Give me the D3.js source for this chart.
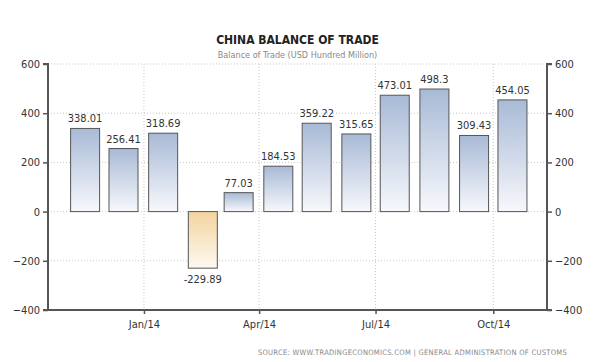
<!DOCTYPE html>
<html>
<head>
<meta charset="utf-8">
<script src="https://cdn.jsdelivr.net/npm/d3@7"></script>
<style>
  body { margin: 0; background: #fff; }
  text { font-family: "DejaVu Sans Condensed", "DejaVu Sans", sans-serif; }
</style>
</head>
<body>
<script>
// data: Nov 2013 .. Oct 2014
var months = ["2013-11", "2013-12", "2014-01", "2014-02", "2014-03", "2014-04",
              "2014-05", "2014-06", "2014-07", "2014-08", "2014-09", "2014-10"];
var values = [338.01, 256.41, 318.69, -229.89, 77.03, 184.53,
              359.22, 315.65, 473.01, 498.3, 309.43, 454.05];
var yTicks = [-400, -200, 0, 200, 400, 600];
var xTicks = ["2014-01", "2014-04", "2014-07", "2014-10"];

var svgWidth = 600;
var svgHeight = 362;

var margin = { top: 64, right: 53, bottom: 52, left: 48 };
var width = svgWidth - margin.left - margin.right;
var height = svgHeight - margin.top - margin.bottom;

var parseMonth = d3.timeParse("%Y-%m");
var fmtTick = d3.timeFormat("%b/%y");

var data = months.map(function(m, i) {
  var d = parseMonth(m);
  return { date: d, mid: d3.timeDay.offset(d, 15), value: values[i] };
});

var svg = d3.select("body")
  .append("svg")
  .attr("width", svgWidth)
  .attr("height", svgHeight);

var defs = svg.append("defs");
var gBlue = defs.append("linearGradient").attr("id", "gBlue")
  .attr("x1", 0).attr("y1", 0).attr("x2", 0).attr("y2", 1);
gBlue.append("stop").attr("offset", "0%").attr("stop-color", "#a8bad6");
gBlue.append("stop").attr("offset", "100%").attr("stop-color", "#f7f8fc");
var gOrange = defs.append("linearGradient").attr("id", "gOrange")
  .attr("x1", 0).attr("y1", 0).attr("x2", 0).attr("y2", 1);
gOrange.append("stop").attr("offset", "0%").attr("stop-color", "#f3d49e");
gOrange.append("stop").attr("offset", "100%").attr("stop-color", "#fdf9f2");

var chartGroup = svg.append("g")
  .attr("transform", `translate(${margin.left}, ${margin.top})`);

// scales
var xScale = d3.scaleTime()
  .domain([new Date(2013, 9, 18), new Date(2014, 10, 12)])
  .range([0, width]);

var yScale = d3.scaleLinear()
  .domain([-400, 600])
  .range([height, 0]);

var tickDates = xTicks.map(parseMonth);

// grid
chartGroup.append("g")
  .selectAll("line")
  .data(yTicks.filter(d => d > -400))
  .enter()
  .append("line")
  .attr("x1", 0).attr("x2", width)
  .attr("y1", d => yScale(d)).attr("y2", d => yScale(d))
  .attr("stroke", "#c8c8c8")
  .attr("stroke-dasharray", "1,2");

chartGroup.append("g")
  .selectAll("line")
  .data(tickDates)
  .enter()
  .append("line")
  .attr("x1", d => xScale(d)).attr("x2", d => xScale(d))
  .attr("y1", 0).attr("y2", height)
  .attr("stroke", "#c8c8c8")
  .attr("stroke-dasharray", "1,2");

// bars
var barW = 29;
chartGroup.selectAll("rect.bar")
  .data(data)
  .enter()
  .append("rect")
  .attr("class", "bar")
  .attr("x", d => xScale(d.mid) - barW / 2)
  .attr("y", d => yScale(Math.max(0, d.value)))
  .attr("width", barW)
  .attr("height", d => Math.abs(yScale(d.value) - yScale(0)))
  .attr("fill", d => d.value >= 0 ? "url(#gBlue)" : "url(#gOrange)")
  .attr("stroke", "#555")
  .attr("stroke-width", 1);

// value labels
chartGroup.selectAll("text.val")
  .data(data)
  .enter()
  .append("text")
  .attr("class", "val")
  .attr("x", d => xScale(d.mid))
  .attr("y", d => d.value >= 0 ? yScale(d.value) - 6 : yScale(d.value) + 15)
  .attr("text-anchor", "middle")
  .attr("font-size", "11px")
  .attr("fill", "#333")
  .text(d => d.value);

// axes
var leftAxis = d3.axisLeft(yScale).tickValues(yTicks).tickSize(5).tickPadding(3);
var rightAxis = d3.axisRight(yScale).tickValues(yTicks).tickSize(5).tickPadding(3);
var bottomAxis = d3.axisBottom(xScale).tickValues(tickDates).tickFormat(fmtTick)
  .tickSize(4).tickPadding(6);

function styleAxis(g) {
  g.select(".domain").attr("stroke", "#555").attr("stroke-width", 2);
  g.selectAll(".tick line").attr("stroke", "#555").attr("stroke-width", 1.5);
  g.selectAll(".tick text").attr("fill", "#333").attr("font-size", "11px")
    .attr("font-family", "'DejaVu Sans Condensed', 'DejaVu Sans', sans-serif");
}

chartGroup.append("g")
  .call(leftAxis)
  .call(styleAxis)
  .call(g => g.select(".domain").attr("d", `M-5,0H0V${height}H-5`));

chartGroup.append("g")
  .attr("transform", `translate(${width}, 0)`)
  .call(rightAxis)
  .call(styleAxis)
  .call(g => g.select(".domain").attr("d", `M5,0H0V${height}H5`));

chartGroup.append("g")
  .attr("transform", `translate(0, ${height})`)
  .call(bottomAxis)
  .call(styleAxis)
  .call(g => g.select(".domain").attr("d", `M0,0H${width}`));

// titles
svg.append("text")
  .attr("x", margin.left + width / 2)
  .attr("y", 44)
  .attr("text-anchor", "middle")
  .attr("font-size", "12px")
  .attr("font-weight", "bold")
  .attr("fill", "#222")
  .text("CHINA BALANCE OF TRADE");

svg.append("text")
  .attr("x", margin.left + width / 2)
  .attr("y", 58)
  .attr("text-anchor", "middle")
  .attr("font-size", "9px")
  .attr("fill", "#888")
  .text("Balance of Trade (USD Hundred Million)");

svg.append("text")
  .attr("x", 567)
  .attr("y", 355)
  .attr("text-anchor", "end")
  .attr("font-size", "7.5px")
  .attr("letter-spacing", "0.3px")
  .attr("fill", "#888")
  .text("SOURCE: WWW.TRADINGECONOMICS.COM  |  GENERAL ADMINISTRATION OF CUSTOMS");
</script>
</body>
</html>
